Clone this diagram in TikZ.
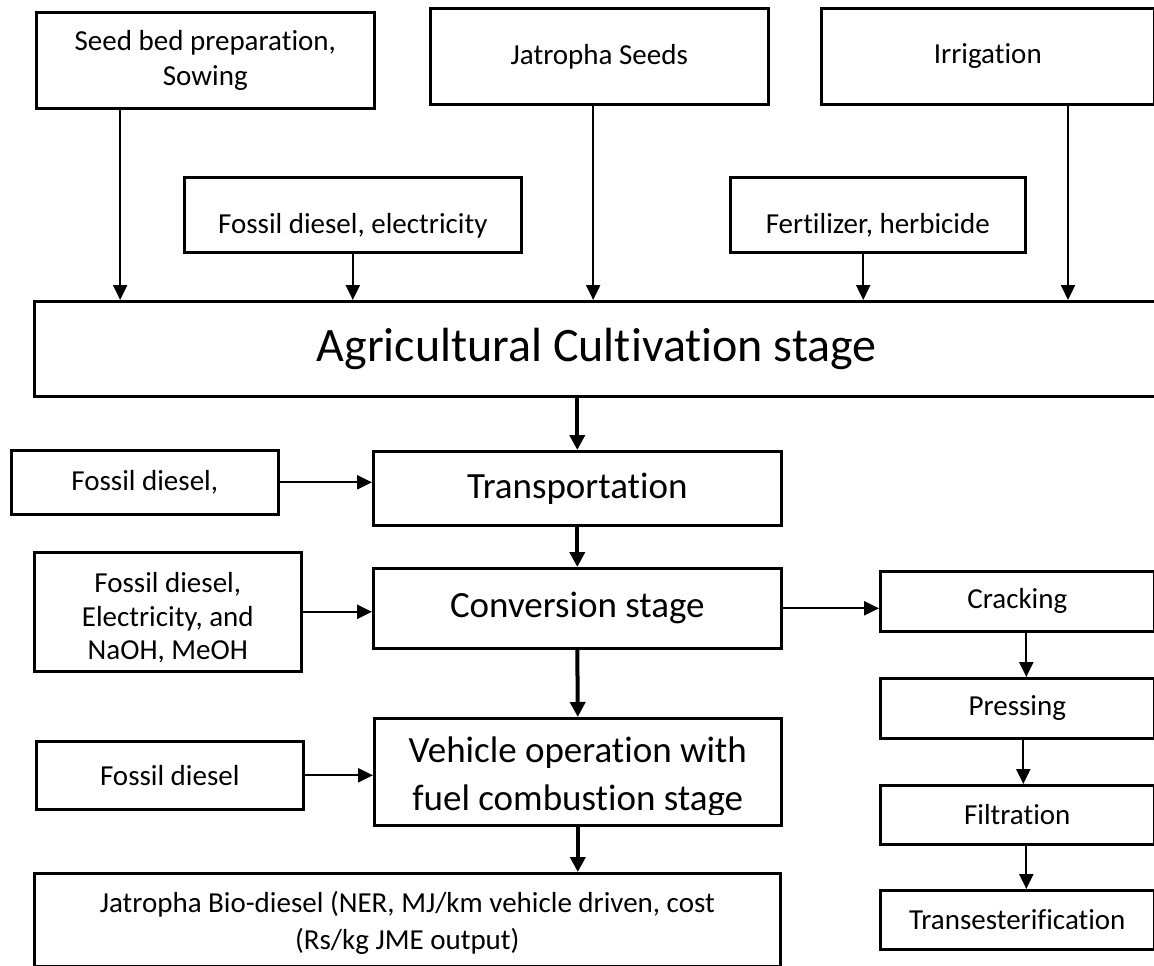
\documentclass[tikz,border=0pt]{standalone}
\usepackage{fontspec}
\setmainfont{Carlito}[Ligatures=NoCommon]
\usetikzlibrary{arrows.meta,calc}
\begin{document}
\begin{tikzpicture}[x=1pt,y=-1pt,
  box/.style={draw, line width=2.6pt, rectangle, anchor=north west, inner sep=0pt,
    align=center, font=\fontsize{29}{35}\selectfont},
  midfont/.style={font=\fontsize{37}{48}\selectfont},
  thinarr/.style={line width=2.2pt, -{Triangle[length=15pt,width=14pt]}},
  thickarr/.style={line width=4pt, -{Triangle[length=15pt,width=15pt]}},
  cliptext/.style n args={4}{path picture={
      \clip (path picture bounding box.north west) rectangle ([yshift=#1]path picture bounding box.south east);
      \node[draw=none, anchor=center, inner sep=0pt, align=center, font=#2]
        at ([yshift=#3]path picture bounding box.center) {#4};}},
]
\useasboundingbox (0,0) rectangle (1154,966);

% top inputs
\node[box, minimum width=338pt, minimum height=96pt] (seed) at (35,11) {Seed bed preparation,\\Sowing};
\node[box, minimum width=338pt, minimum height=96pt] (jat) at (429,7) {Jatropha Seeds};
\node[box, minimum width=333pt, minimum height=96pt] (irr) at (820,7) {Irrigation};
\node[box, minimum width=337pt, minimum height=75pt, text height=44pt, text depth=7pt] (fe) at (183,176) {Fossil diesel, electricity};
\node[box, minimum width=295pt, minimum height=75pt, text height=44pt, text depth=7pt] (fh) at (729,176) {Fertilizer, herbicide};

% main stage
\node[box, minimum width=1125pt, minimum height=95pt, font=\fontsize{48}{58}\selectfont] (ag) at (33,300) {Agricultural Cultivation stage};

% left column
\node[box, minimum width=267pt, minimum height=64pt] (fd1) at (10,449) {Fossil diesel,};
\node[box, minimum width=267pt, minimum height=119pt,
  cliptext={10pt}{\fontsize{29}{33.5}\selectfont}{-6pt}{Fossil diesel,\\Electricity, and\\NaOH, MeOH}] (fd2) at (33,551) {};
\node[box, minimum width=267pt, minimum height=68pt] (fd3) at (35,740) {Fossil diesel};

% central column
\node[box, midfont, minimum width=408pt, minimum height=74pt] (tr) at (372,450) {Transportation};
\node[box, midfont, minimum width=408pt, minimum height=80pt] (cv) at (372,567) {Conversion stage};
\node[box, minimum width=407pt, minimum height=107pt,
  cliptext={11pt}{\fontsize{37}{48}\selectfont}{-5.5pt}{Vehicle operation with\\fuel combustion stage}] (veh) at (373,717) {};
\node[box, minimum width=746pt, minimum height=93pt,
  cliptext={10pt}{\fontsize{29}{37}\selectfont}{-3pt}{Jatropha Bio-diesel (NER, MJ/km vehicle driven, cost\\(Rs/kg JME output)}] (out) at (33,872) {};

% right column
\node[box, minimum width=274pt, minimum height=60pt] (crk) at (879,570) {Cracking};
\node[box, minimum width=274pt, minimum height=60pt] (prs) at (879,677) {Pressing};
\node[box, minimum width=274pt, minimum height=59pt] (fil) at (879,784) {Filtration};
\node[box, minimum width=274pt, minimum height=59pt] (trn) at (879,889) {Transesterification};

% arrows into agricultural stage
\coordinate (a1) at ($(seed.south west)!0.25!(seed.south east)$);
\coordinate (a2) at ($(fe.south west)!0.5!(fe.south east)$);
\coordinate (a3) at ($(jat.south west)!0.482!(jat.south east)$);
\coordinate (a4) at ($(fh.south west)!0.451!(fh.south east)$);
\coordinate (a5) at ($(irr.south west)!0.739!(irr.south east)$);
\foreach \c in {a1,a2,a3,a4,a5}
  \draw[thinarr] (\c) -- (\c |- ag.north);

% main flow
\draw[thickarr] (tr.north |- ag.south) -- (tr.north);
\draw[thickarr] (tr.south) -- (cv.north);
\draw[thickarr] (cv.south) -- (veh.north);
\draw[thickarr] (veh.south) -- (veh.south |- out.north);

% side inputs
\draw[thinarr] (fd1.east) -- (fd1.east -| tr.west);
\draw[thinarr] (fd2.east) -- (fd2.east -| cv.west);
\draw[thinarr] (fd3.east) -- (fd3.east -| veh.west);

% right branch
\draw[thinarr] (cv.east) -- (cv.east -| crk.west);
\coordinate (r1) at ($(crk.south)+(9,0)$);
\coordinate (r2) at ($(prs.south)+(6,0)$);
\coordinate (r3) at ($(fil.south)+(9,0)$);
\draw[thinarr] (r1) -- (r1 |- prs.north);
\draw[thinarr] (r2) -- (r2 |- fil.north);
\draw[thinarr] (r3) -- (r3 |- trn.north);
\end{tikzpicture}
\end{document}
